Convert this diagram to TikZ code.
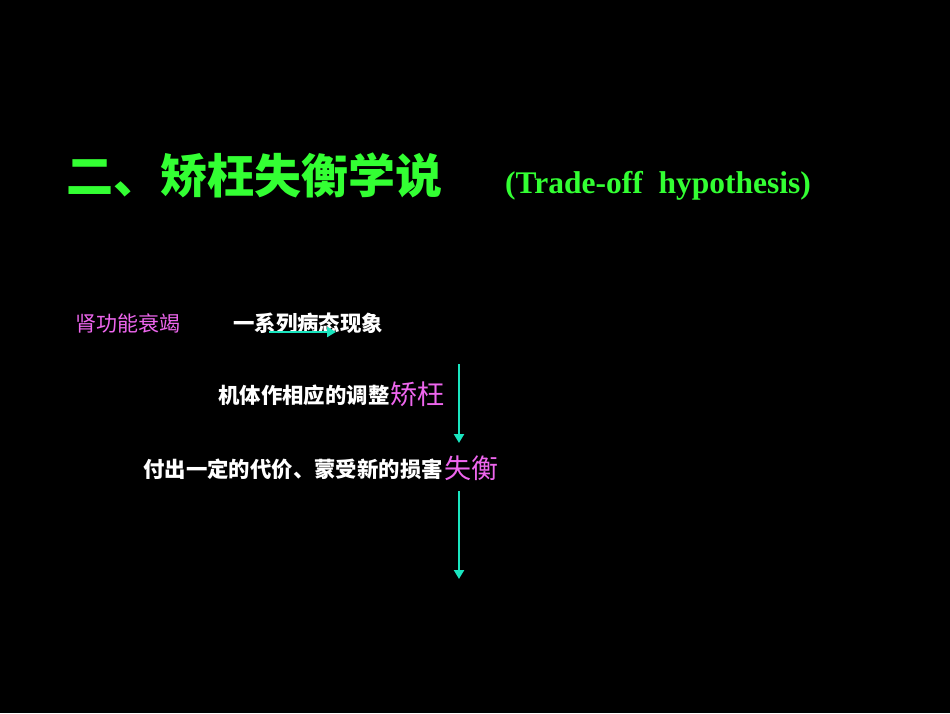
\documentclass[tikz,border=0pt]{standalone}
\usepackage{fontspec}
\setmainfont{Liberation Serif}
\newfontfamily\cjk{Noto Sans CJK SC}
\usepackage{xcolor}
\usepackage{tikz}
\usetikzlibrary{arrows.meta}
\definecolor{bg}{HTML}{000000}
\definecolor{green}{HTML}{33FF33}
\definecolor{pink}{HTML}{EE66EE}
\definecolor{teal}{HTML}{1AE5BF}
\tikzset{
  txt/.style={anchor=base west, inner sep=0pt, text=white, font=\cjk\bfseries\fontsize{21.4}{25}\selectfont},
  pk/.style={anchor=base west, inner sep=0pt, text=pink, font=\cjk\fontsize{21}{25}\selectfont},
  pkbig/.style={anchor=base west, inner sep=0pt, text=pink, font=\cjk\fontsize{27}{32}\selectfont},
  ttl/.style={anchor=base west, inner sep=0pt, text=green, font=\cjk\bfseries\fontsize{47}{52}\selectfont},
  ttlen/.style={anchor=base west, inner sep=0pt, text=green, font=\bfseries\fontsize{31.5}{36}\selectfont},
  arr/.style={draw=teal, line width=2.8pt, -{Triangle[length=9pt,width=10pt]}},
}
\begin{document}
\begin{tikzpicture}[x=1pt,y=-1pt]
  \fill[bg] (0,0) rectangle (950,713);
  \useasboundingbox (0,0) rectangle (950,713);

  % title
  \node[ttl] (title) at (66,193) {二、矫枉失衡学说};
  \node[ttlen] (titleen) at (505,193) {(Trade-off\ \ hypothesis)};

  % text lines
  \node[pk] (fail) at (75,331) {肾功能衰竭};
  \node[txt] (chain) at (233,331) {一系列病态现象};
  \node[txt] (adjust) at (218,403) {机体作相应的调整};
  \node[pkbig] (jiaowang) at (390,404) {矫枉};
  \node[txt] (cost) at (143,477) {付出一定的代价、蒙受新的损害};
  \node[pkbig] (shiheng) at (444,478) {失衡};

  % arrow ends
  \coordinate (h1) at (269,332);
  \coordinate (h2) at (336,332);
  \coordinate (v1) at (459,364);
  \coordinate (v2) at (459,443);
  \coordinate (v3) at (459,491);
  \coordinate (v4) at (459,579);

  \draw[arr] (h1) -- (h2);
  \draw[arr] (v1) -- (v2);
  \draw[arr] (v3) -- (v4);
\end{tikzpicture}
\end{document}
